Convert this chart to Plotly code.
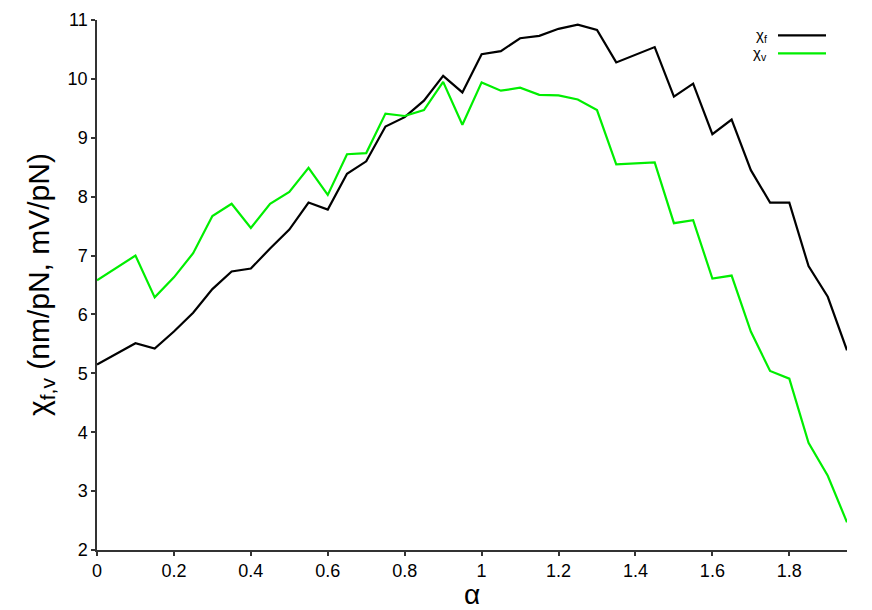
import plotly.graph_objects as go

alpha = [0, 0.1, 0.15, 0.2, 0.25, 0.3, 0.35, 0.4, 0.45, 0.5, 0.55, 0.6, 0.65, 0.7,
         0.75, 0.8, 0.85, 0.9, 0.95, 1.0, 1.05, 1.1, 1.15, 1.2, 1.25, 1.3, 1.35,
         1.4, 1.45, 1.5, 1.55, 1.6, 1.65, 1.7, 1.75, 1.8, 1.85, 1.9, 1.95]

chi_f = [5.15, 5.51, 5.42, 5.71, 6.03, 6.43, 6.73, 6.78, 7.12, 7.44, 7.90, 7.78, 8.39,
         8.60, 9.19, 9.35, 9.63, 10.05, 9.77, 10.42, 10.47, 10.69, 10.73, 10.85, 10.92,
         10.83, 10.28, 10.41, 10.54, 9.70, 9.92, 9.06, 9.31, 8.45, 7.90, 7.90, 6.82,
         6.30, 5.39]

chi_v = [6.58, 7.00, 6.29, 6.63, 7.04, 7.67, 7.88, 7.47, 7.88, 8.08, 8.49, 8.03, 8.72,
         8.74, 9.41, 9.37, 9.47, 9.95, 9.22, 9.94, 9.80, 9.85, 9.73, 9.72, 9.65, 9.47,
         8.55, 8.57, 8.58, 7.55, 7.60, 6.61, 6.66, 5.71, 5.04, 4.91, 3.82, 3.26, 2.47]

series_names = ["χ<sub>f</sub>", "χ<sub>v</sub>"]
series_colors = ["#000000", "#00ee00"]

x_ticks = [0, 0.2, 0.4, 0.6, 0.8, 1, 1.2, 1.4, 1.6, 1.8]
x_tick_labels = ["0", "0.2", "0.4", "0.6", "0.8", "1", "1.2", "1.4", "1.6", "1.8"]
y_ticks = [2, 3, 4, 5, 6, 7, 8, 9, 10, 11]

x_title = "α"
y_title = "χ<sub>f,v</sub> (nm/pN, mV/pN)"

FONT = "Liberation Sans, Arial, sans-serif"

fig = go.Figure()
for name, ys, col in zip(series_names, [chi_f, chi_v], series_colors):
    fig.add_trace(go.Scatter(x=alpha, y=ys, mode="lines", name=name,
                             line=dict(color=col, width=2.2), showlegend=False))

# gnuplot-style key: text on the left, line sample on the right
key_y = [0.971, 0.937]
for name, col, ky in zip(series_names, series_colors, key_y):
    fig.add_annotation(xref="paper", yref="paper", x=0.896, y=ky, text=name,
                       showarrow=False, xanchor="right", yanchor="middle",
                       font=dict(family=FONT, size=15, color="#000"))
    fig.add_shape(type="line", xref="paper", yref="paper", x0=0.908, x1=0.972,
                  y0=ky, y1=ky, line=dict(color=col, width=2.2))

# axis titles
fig.add_annotation(xref="paper", yref="paper", x=0.5, y=-0.084, text=x_title,
                   showarrow=False, xanchor="center", yanchor="middle",
                   font=dict(family=FONT, size=28, color="#000"))
fig.add_annotation(xref="paper", yref="paper", x=-0.076, y=0.5, text=y_title,
                   showarrow=False, xanchor="center", yanchor="middle", textangle=-90,
                   font=dict(family=FONT, size=30, color="#000"))

fig.update_layout(
    width=872, height=610,
    margin=dict(l=97, r=25, t=20, b=60),
    paper_bgcolor="white", plot_bgcolor="white",
    font=dict(family=FONT, color="#000"),
)
fig.update_xaxes(
    range=[0, 1.95], tickvals=x_ticks, ticktext=x_tick_labels, automargin=False,
    showgrid=False, zeroline=False, showline=True, linecolor="#333", linewidth=1.5,
    ticks="outside", ticklen=4, tickcolor="#333", tickwidth=1.5,
    tickfont=dict(family=FONT, size=18, color="#000"),
)
fig.update_yaxes(
    range=[2, 11], tickvals=y_ticks, automargin=False,
    showgrid=False, zeroline=False, showline=True, linecolor="#333", linewidth=1.5,
    ticks="outside", ticklen=4, tickcolor="#333", tickwidth=1.5,
    tickfont=dict(family=FONT, size=18, color="#000"),
)

fig.write_html("out.html", config={"displayModeBar": False},
               post_script="document.body.style.margin='0';document.body.style.overflow='hidden';")
